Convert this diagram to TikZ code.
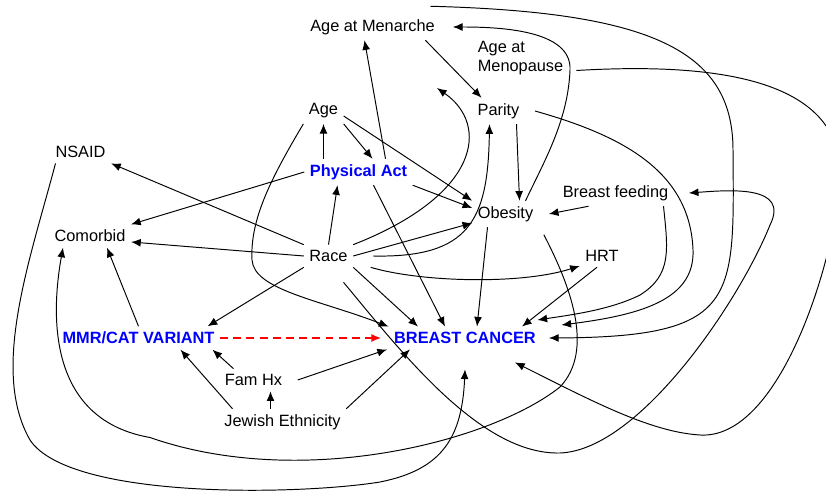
\documentclass[tikz,border=0pt]{standalone}
\usepackage{fontspec}
\setmainfont{Liberation Sans}
\usepackage{xcolor}
\usepackage{tikz}
\usetikzlibrary{arrows.meta,calc}

\tikzset{
	var/.style={inner sep=3pt,font=\fontsize{9.3}{11}\selectfont,text=black},
	keyvar/.style={var,text=blue,font=\fontsize{9.3}{11}\selectfont\bfseries},
	arr/.style={-{Latex[length=5.5pt,width=4.5pt]},line width=0.55pt},
	dasharr/.style={arr,red,dash pattern=on 4.5pt off 3pt,line width=0.7pt}
}

\begin{document}
\begin{tikzpicture}
		\useasboundingbox (0,0) rectangle (16.52,9.9);
		\clip (0,0) rectangle (16.52,9.9);
		\node[var] (menarche) at (7.45,9.36) {Age at Menarche};
		\node[var,align=left] (menopause) at (10.41,8.74) {Age at\\Menopause};
		\node[var] (age) at (6.47,7.68) {Age};
		\node[var] (parity) at (9.97,7.68) {Parity};
		\node[keyvar] (physact) at (7.17,6.46) {Physical Act};
		\node[var] (nsaid) at (1.61,6.86) {NSAID};
		\node[var] (obesity) at (10.11,5.62) {Obesity};
		\node[var] (bfeed) at (12.31,6.04) {Breast feeding};
		\node[var] (comorbid) at (1.80,5.18) {Comorbid};
		\node[var] (race) at (6.57,4.78) {Race};
		\node[var] (hrt) at (12.04,4.78) {HRT};
		\node[keyvar] (mmr) at (2.77,3.14) {MMR/CAT VARIANT};
		\node[keyvar] (bc) at (9.30,3.14) {BREAST CANCER};
		\node[var] (famhx) at (5.07,2.30) {Fam Hx};
		\node[var] (jewish) at (5.65,1.46) {Jewish Ethnicity};
		\coordinate (menarchetip) at (8.74,8.14);

		\draw[arr] (age.south |- physact.north) -- (age.south);
		\draw[arr] (age.south east) -- ([xshift=0.28cm]physact.north);
		\draw[arr] ([yshift=-0.1cm]age.east) -- (obesity.north west);
		\draw[arr] ([xshift=0.54cm]physact.north) -- ([xshift=-0.16cm]menarche.south);
		\draw[arr] (physact.west) -- (comorbid.north east);
		\draw[arr] (physact.south east) -- ([yshift=0.12cm]obesity.west);
		\draw[arr] ([xshift=0.3cm]physact.south) -- ([xshift=-0.4cm]bc.north);
		\draw[arr] (race.north) -- ([xshift=-0.42cm]physact.south);
		\draw[arr] (race.north west) -- (nsaid.south east);
		\draw[arr] (race.west) -- ([yshift=-0.12cm]comorbid.east);
		\draw[arr] (race.east) -- ([yshift=-0.18cm]obesity.west);
		\draw[arr] (race.south west) -- ([xshift=-0.25cm]mmr.north east);
		\draw[arr] (race.south east) -- ([xshift=-0.94cm]bc.north);
		\draw[arr] ([xshift=-0.36cm]obesity.south) -- ([xshift=0.24cm]bc.north);
		\draw[arr] ([xshift=-0.1cm]hrt.south) -- ([xshift=1.14cm]bc.north);
		\draw[arr] ([xshift=-0.54cm]bfeed.south) -- ([xshift=0.2cm]obesity.east);
		\draw[arr] ([xshift=-0.3cm]menarche.south east) -- ([xshift=-0.34cm]parity.north);
		\draw[arr] ([xshift=0.36cm]parity.south) -- ([xshift=0.28cm]obesity.north);
		\draw[arr] (mmr.north) -- ([xshift=0.34cm]comorbid.south);
		\draw[dasharr] (mmr.east) -- ([xshift=-0.15cm]bc.west);
		\draw[arr] ([xshift=-0.4cm]famhx.north) -- ([xshift=1.48cm]mmr.south);
		\draw[arr] ([xshift=0.2cm]famhx.east) -- ([xshift=-1.56cm]bc.south);
		\draw[arr] (jewish.north east) -- ([xshift=-1.1cm]bc.south);
		\draw[arr] ([xshift=-0.24cm]jewish.north) -- ([xshift=-0.24cm]jewish.north |- famhx.south);
		\draw[arr] ([xshift=-1cm]jewish.north) -- ([xshift=0.84cm]mmr.south);

		\draw[arr] (race.north east) .. controls (9.60,6.00) and (9.80,7.40) .. (menarchetip);
		\draw[arr] ([xshift=0.4cm]race.east) .. controls (9.40,4.74) and (9.76,5.50) .. ([xshift=-0.18cm]parity.south);
		\draw[arr] ([xshift=0.35cm]race.south east) .. controls (8.40,4.26) and (10.40,4.20) .. ([yshift=-0.2cm]hrt.west);
		\draw[arr] (age.south west) .. controls (5.40,6.30) and (5.00,5.50) .. (5.04,4.70) .. controls (5.08,4.10) and (6.40,3.90) .. (bc.north west);
		\draw[arr] ([xshift=0.3cm,yshift=-0.3cm]race.south) .. controls (8.00,2.90) and (9.60,0.80) .. (11.20,0.84) .. controls (12.80,0.90) and (14.80,3.90) .. (15.40,5.40) .. controls (15.80,6.20) and (14.60,6.10) .. ([xshift=0.3cm]bfeed.east);
		\draw[arr] ([xshift=0.4cm]obesity.north) .. controls (10.90,6.70) and (11.36,7.50) .. (11.40,8.50) .. controls (11.44,9.30) and (10.00,9.36) .. ([xshift=0.25cm]menarche.east);
		\draw[arr] ([xshift=0.1cm,yshift=-0.15cm]obesity.south east) .. controls (11.40,4.20) and (11.90,2.90) .. (11.20,2.16) .. controls (9.80,1.05) and (6.00,0.10) .. (3.00,1.15) .. controls (1.00,1.50) and (1.00,3.50) .. ([xshift=-0.54cm]comorbid.south);
		\draw[arr] ([xshift=-0.5cm]nsaid.south) .. controls (0.60,4.70) and (-0.20,2.50) .. (0.60,1.10) .. controls (1.40,-0.10) and (6.00,0.00) .. (7.60,0.26) .. controls (8.80,0.50) and (9.24,1.10) .. ([yshift=-0.4cm]bc.south);
		\draw[arr] ([xshift=-0.2cm,yshift=0.15cm]menarche.north east) .. controls (13.00,9.66) and (14.66,8.90) .. (14.66,6.90) .. controls (14.68,3.90) and (14.80,3.16) .. ([xshift=0.15cm]bc.east);
		\draw[arr] ([xshift=0.2cm]parity.east) .. controls (12.40,7.20) and (13.80,6.50) .. (13.86,4.90) .. controls (13.90,3.90) and (12.80,3.60) .. ([xshift=0.4cm,yshift=0.26cm]bc.east);
		\draw[arr] ([xshift=0.96cm]bfeed.south) .. controls (13.36,4.90) and (13.44,4.40) .. (12.80,4.00) .. controls (12.20,3.70) and (11.40,3.60) .. ([xshift=-0.08cm,yshift=0.36cm]bc.east);
		\draw[arr] ([xshift=0.15cm,yshift=-0.25cm]menopause.east) .. controls (14.40,8.66) and (16.90,8.30) .. (16.80,6.30) .. controls (16.70,4.70) and (15.60,1.10) .. (14.00,1.20) .. controls (13.00,1.26) and (11.80,1.90) .. ([xshift=1cm,yshift=-0.26cm]bc.south);
	\end{tikzpicture}
\end{document}
